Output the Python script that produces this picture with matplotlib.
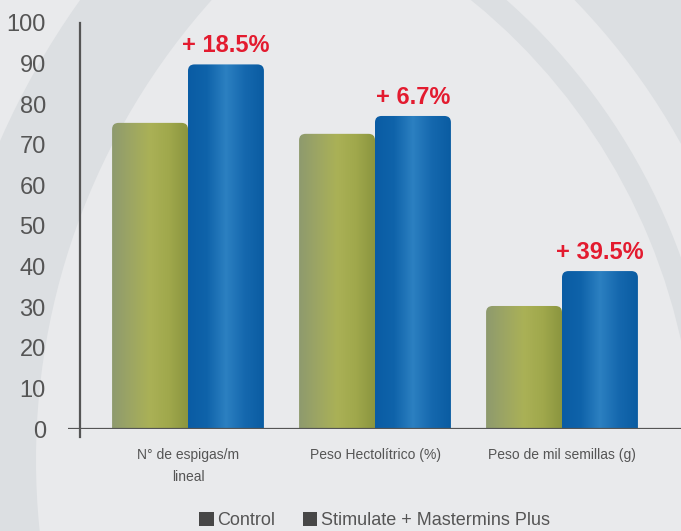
import numpy as np
import matplotlib
matplotlib.use("Agg")
import matplotlib.pyplot as plt
from matplotlib.patches import FancyBboxPatch, Patch, Annulus
from matplotlib.colors import LinearSegmentedColormap

plt.rcParams['font.family'] = ['Liberation Sans', 'DejaVu Sans']

# data
categories = ["N° de espigas/m\nlineal", "Peso Hectolítrico (%)", "Peso de mil semillas (g)"]
control = [75.4, 72.7, 30.3]
stimulate = [89.8, 77.1, 38.9]
gains = ["+ 18.5%", "+ 6.7%", "+ 39.5%"]
series_names = ["Control", "Stimulate + Mastermins Plus"]
yticks = [0, 10, 20, 30, 40, 50, 60, 70, 80, 90, 100]

W, H = 681, 531
fig = plt.figure(figsize=(W / 100, H / 100), dpi=100)
fig.patch.set_facecolor('#e9eaec')

# background rings, in pixel coords (y down)
bg = fig.add_axes([0, 0, 1, 1], zorder=0)
bg.set_xlim(0, W)
bg.set_ylim(H, 0)
bg.axis('off')
dark = '#dcdfe2'
bg.add_patch(Annulus((726, 460), 793, 103, color=dark, lw=0))
bg.add_patch(Annulus((90, 470), 1400, 1400 - 675, color=dark, lw=0))
bg.add_patch(Annulus((90, 470), 628, 23, color=dark, lw=0))

# main axes
left = 68 / W
bottom = (H - 429) / H
ax = fig.add_axes([left, bottom, 1 - left, (429 - 23) / H], zorder=1)
ax.set_facecolor('none')

x = np.arange(len(categories))
bw = 0.406
olive = LinearSegmentedColormap.from_list('olive', ['#8e9a6e', '#9da663', '#aab156', '#a0a84c', '#8b953f'])
blue = LinearSegmentedColormap.from_list('blue', ['#0a5ca4', '#0f63aa', '#2c80c1', '#1568ae', '#0a5ca2'])
grad = np.linspace(0, 1, 200).reshape(1, -1)

bars_c = ax.bar(x - bw / 2, control, bw)
bars_s = ax.bar(x + bw / 2, stimulate, bw)

for bars, cmap in [(bars_c, olive), (bars_s, blue)]:
    for rect in bars:
        x0, w, h = rect.get_x(), rect.get_width(), rect.get_height()
        rect.set_visible(False)
        box = FancyBboxPatch((x0, -5), w, h + 5,
                             boxstyle='round,pad=0,rounding_size=0.035',
                             mutation_aspect=45, facecolor='none', edgecolor='none')
        ax.add_patch(box)
        im = ax.imshow(grad, cmap=cmap, extent=[x0, x0 + w, -5, h],
                       aspect='auto', zorder=2, interpolation='bilinear')
        im.set_clip_path(box)

for xi, v, g in zip(x, stimulate, gains):
    ax.annotate(g, (xi + bw / 2, v), xytext=(0, 5), textcoords='offset points',
                ha='center', va='bottom', fontsize=17, fontweight='bold', color='#e31b2f')

xmin = (68 - 188) / 187
xmax = (681 - 188) / 187
ax.set_xlim(xmin, xmax)
ax.set_ylim(0, 100)

for s in ax.spines.values():
    s.set_visible(False)
ax.axhline(0, color='#555555', lw=1.6, zorder=3)
xv = (80 - 188) / 187
ax.plot([xv, xv], [-2, 100], color='#555555', lw=1.6, clip_on=False, zorder=3)

ax.set_yticks(yticks)
ax.set_yticklabels([str(t) for t in yticks])
ax.tick_params(axis='y', length=0, pad=16, labelsize=17, labelcolor='#555555')
ax.set_xticks(x)
ax.set_xticklabels(categories, linespacing=1.7)
ax.tick_params(axis='x', length=0, pad=14, labelsize=10, labelcolor='#555555')

handles = [Patch(facecolor='#474747'), Patch(facecolor='#474747')]
fig.legend(handles, series_names, loc='center', bbox_to_anchor=(0.55, 0.02), ncol=2,
           frameon=False, fontsize=13, handlelength=0.8, handleheight=0.8,
           handletextpad=0.2, columnspacing=1.5, labelcolor='#555555')

fig.savefig('out.png', dpi=100, facecolor=fig.get_facecolor())
